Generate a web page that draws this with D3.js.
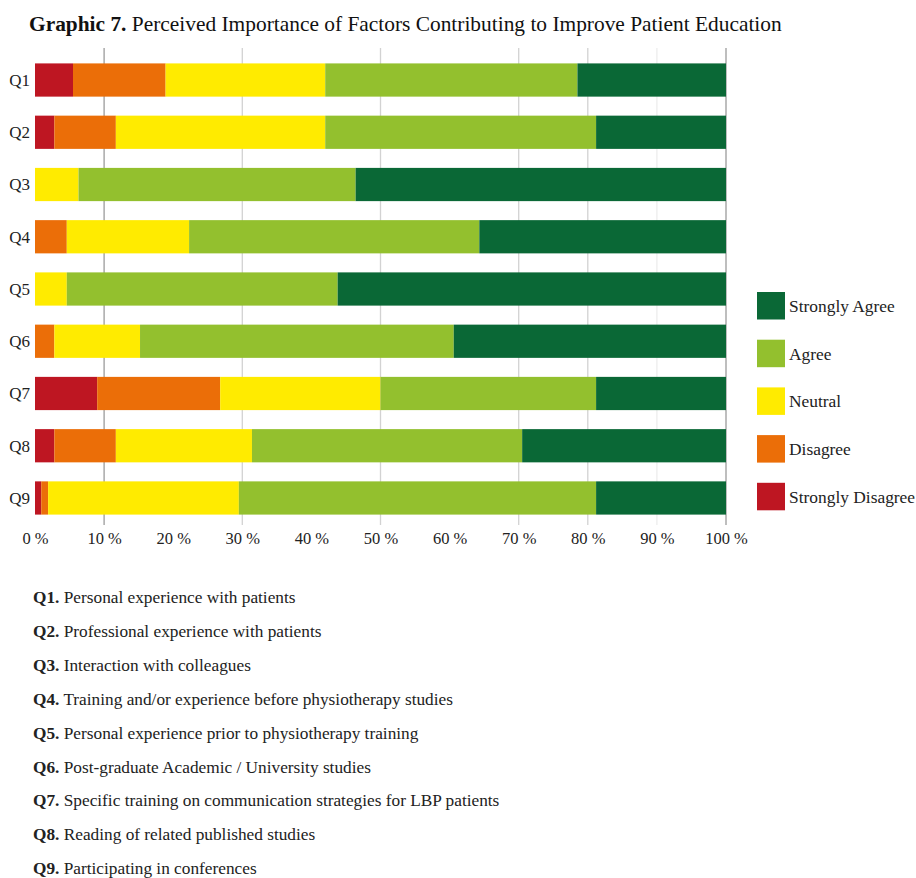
<!DOCTYPE html>
<html>
<head>
<meta charset="utf-8">
<script src="https://cdn.jsdelivr.net/npm/d3@7"></script>
<style>
  body { margin: 0; background: #fff; }
  svg { font-family: "Liberation Serif", "DejaVu Serif", serif; }
</style>
</head>
<body>
<div id="chart"></div>
<script>
// Data (percent of respondents)
const questions = ["Q1", "Q2", "Q3", "Q4", "Q5", "Q6", "Q7", "Q8", "Q9"];
const levels = ["Strongly Disagree", "Disagree", "Neutral", "Agree", "Strongly Agree"];
const stronglyDisagree = [5.5, 2.8, 0, 0, 0, 0, 9.0, 2.8, 0.9];
const disagree         = [13.4, 8.9, 0, 4.6, 0, 2.8, 17.8, 8.9, 1.0];
const neutral          = [23.1, 30.3, 6.3, 17.7, 4.6, 12.4, 23.2, 19.7, 27.6];
const agree            = [36.5, 39.2, 40.1, 42.0, 39.2, 45.4, 31.2, 39.1, 51.7];
const stronglyAgree    = [21.5, 18.8, 53.6, 35.7, 56.2, 39.4, 18.8, 29.5, 18.8];
const xTicks = [0, 10, 20, 30, 40, 50, 60, 70, 80, 90, 100];
const gridValues = [10, 30, 50, 70, 80, 90, 100];
const descriptions = [
  "Personal experience with patients",
  "Professional experience with patients",
  "Interaction with colleagues",
  "Training and/or experience before physiotherapy studies",
  "Personal experience prior to physiotherapy training",
  "Post-graduate Academic / University studies",
  "Specific training on communication strategies for LBP patients",
  "Reading of related published studies",
  "Participating in conferences"
];

const colors = {
  "Strongly Disagree": "#be1622",
  "Disagree": "#eb6e08",
  "Neutral": "#ffeb00",
  "Agree": "#93c02e",
  "Strongly Agree": "#0a6836"
};

const width = 916, height = 878;

const rows = questions.map((q, i) => ({
  q,
  "Strongly Disagree": stronglyDisagree[i],
  "Disagree": disagree[i],
  "Neutral": neutral[i],
  "Agree": agree[i],
  "Strongly Agree": stronglyAgree[i]
}));

const svg = d3.select("#chart")
  .append("svg")
  .attr("width", width)
  .attr("height", height);

// Title
const title = svg.append("text")
  .attr("x", 29)
  .attr("y", 31)
  .attr("font-size", 21.4)
  .attr("fill", "#111");
title.append("tspan").attr("font-weight", "bold").text("Graphic 7.");
title.append("tspan").text(" Perceived Importance of Factors Contributing to Improve Patient Education");

// Scales
const x = d3.scaleLinear().domain([0, 100]).range([35, 726]);
const y = d3.scaleBand()
  .domain(questions)
  .range([54, 524])
  .paddingInner(0.364)
  .paddingOuter(0.18);

// Gridlines
svg.append("g")
  .selectAll("line")
  .data(gridValues)
  .join("line")
  .attr("x1", d => x(d))
  .attr("x2", d => x(d))
  .attr("y1", 48)
  .attr("y2", 525)
  .attr("stroke", d => (d === 10 || d === 100) ? "#9b9b9b" : (d === 90 ? "#ececec" : "#d2d2d2"))
  .attr("stroke-width", 1.3);

// Stacked bars
const stacked = d3.stack().keys(levels)(rows);

svg.append("g")
  .selectAll("g")
  .data(stacked)
  .join("g")
  .attr("fill", d => colors[d.key])
  .selectAll("rect")
  .data(d => d.filter(s => s[1] - s[0] > 0))
  .join("rect")
  .attr("x", d => x(d[0]))
  .attr("y", d => y(d.data.q))
  .attr("width", d => x(d[1]) - x(d[0]))
  .attr("height", y.bandwidth());

// Y labels
svg.append("g")
  .selectAll("text")
  .data(questions)
  .join("text")
  .attr("x", 30)
  .attr("y", d => y(d) + y.bandwidth() / 2)
  .attr("dy", "0.35em")
  .attr("text-anchor", "end")
  .attr("font-size", 17)
  .attr("fill", "#222")
  .text(d => d);

// X axis labels
const xAxis = d3.axisBottom(x)
  .tickValues(xTicks)
  .tickSize(0)
  .tickPadding(0)
  .tickFormat(d => d + " %");

svg.append("g")
  .attr("transform", "translate(0,532)")
  .call(xAxis)
  .call(g => g.select(".domain").remove())
  .call(g => g.selectAll("text")
    .attr("font-family", "Liberation Serif, DejaVu Serif, serif")
    .attr("font-size", 16.5)
    .attr("fill", "#222"));

// Legend
const legendItems = levels.slice().reverse();
const legend = svg.append("g").attr("transform", "translate(757,292)");
const item = legend.selectAll("g")
  .data(legendItems)
  .join("g")
  .attr("transform", (d, i) => `translate(0,${i * 47.7})`);
item.append("rect")
  .attr("width", 28)
  .attr("height", 27.5)
  .attr("fill", d => colors[d]);
item.append("text")
  .attr("x", 32)
  .attr("y", 14)
  .attr("dy", "0.35em")
  .attr("font-size", 17.4)
  .attr("fill", "#222")
  .text(d => d);

// Question descriptions
const notes = svg.append("g")
  .selectAll("text")
  .data(questions)
  .join("text")
  .attr("x", 33)
  .attr("y", (d, i) => 603 + i * 33.9)
  .attr("font-size", 17.3)
  .attr("fill", "#222");
notes.append("tspan").attr("font-weight", "bold").text(d => d + ".");
notes.append("tspan").text((d, i) => " " + descriptions[i]);
</script>
</body>
</html>
